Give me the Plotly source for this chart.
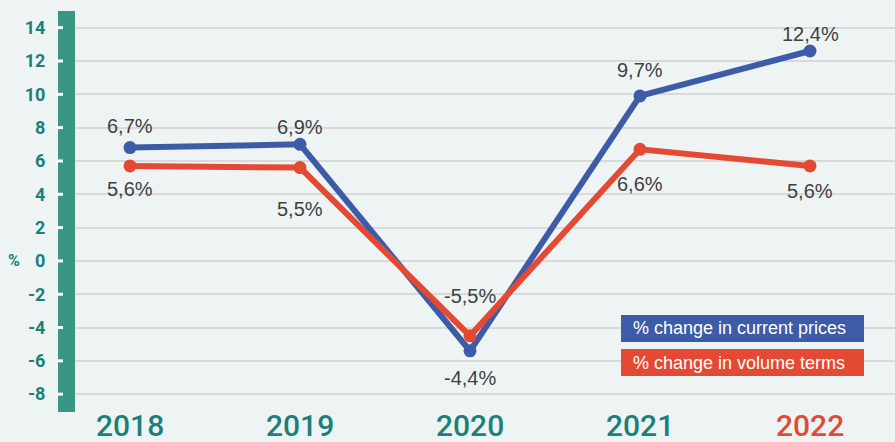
import plotly.graph_objects as go

years = ["2018", "2019", "2020", "2021", "2022"]
current_prices = [6.8, 7.0, -5.4, 9.9, 12.6]
volume_terms = [5.7, 5.6, -4.5, 6.7, 5.7]
current_labels = ["6,7%", "6,9%", "-4,4%", "9,7%", "12,4%"]
volume_labels = ["5,6%", "5,5%", "-5,5%", "6,6%", "5,6%"]
y_ticks = [14, 12, 10, 8, 6, 4, 2, 0, -2, -4, -6, -8]
legend_names = ["% change in current prices", "% change in volume terms"]

# style
BLUE = "#3e5ba8"
RED = "#e44a33"
TEAL_BAR = "#3a9585"
TEAL_TXT = "#1c7f7a"
BG = "#eef4f4"
LABEL_COL = "#404040"
cur_shift = [22, 17, -27, 26, 17]
vol_shift = [-23, -41, 40, -35, -25]
year_colors = [TEAL_TXT, TEAL_TXT, TEAL_TXT, TEAL_TXT, RED]

W, H = 895, 442
ML, MR, MT, MB = 75, 0, 11, 30
PW = W - ML - MR
PH = H - MT - MB

xs = list(range(len(years)))

fig = go.Figure()
fig.add_trace(go.Scatter(x=xs, y=current_prices, mode="lines+markers",
                         line=dict(color=BLUE, width=6), marker=dict(size=13, color=BLUE),
                         name=legend_names[0], hoverinfo="skip"))
fig.add_trace(go.Scatter(x=xs, y=volume_terms, mode="lines+markers",
                         line=dict(color=RED, width=6), marker=dict(size=13, color=RED),
                         name=legend_names[1], hoverinfo="skip"))

ann = []
for i in xs:
    ann.append(dict(x=i, y=current_prices[i], text=current_labels[i], showarrow=False,
                    yshift=cur_shift[i], font=dict(family="Liberation Sans, Arial", size=20, color=LABEL_COL)))
    ann.append(dict(x=i, y=volume_terms[i], text=volume_labels[i], showarrow=False,
                    yshift=vol_shift[i], font=dict(family="Liberation Sans, Arial", size=20, color=LABEL_COL)))
    ann.append(dict(x=i, y=-13 / PH, yref="paper", text=years[i], showarrow=False, yanchor="middle",
                    xanchor="center",
                    font=dict(family="Roboto", size=30, color=year_colors[i], weight=500)))

ann.append(dict(x=(14 - ML) / PW, xref="paper", xanchor="center", y=0, yref="y", text="%", showarrow=False,
                font=dict(family="Roboto", size=16, color=TEAL_TXT, weight="bold")))

shapes = [dict(type="rect", xref="paper", yref="paper", x0=(58 - ML) / PW, x1=0, y0=0, y1=1,
               fillcolor=TEAL_BAR, line=dict(width=0), layer="below")]
for t in y_ticks:
    shapes.append(dict(type="line", xref="paper", yref="y", x0=(56 - ML) / PW, x1=(63 - ML) / PW,
                       y0=t, y1=t, line=dict(color="white", width=3)))

# legend boxes
leg_boxes = [(315, 342), (349, 376)]
for (top, bot), col, name in zip(leg_boxes, [BLUE, RED], legend_names):
    y0 = (H - MB - bot) / PH
    y1 = (H - MB - top) / PH
    shapes.append(dict(type="rect", xref="paper", yref="paper", x0=(621 - ML) / PW, x1=(864 - ML) / PW,
                       y0=y0, y1=y1, fillcolor=col, line=dict(width=0)))
    ann.append(dict(x=(631 - ML) / PW, xref="paper", y=(y0 + y1) / 2, yref="paper", text=name,
                    xanchor="left", yanchor="middle", showarrow=False,
                    font=dict(family="Liberation Sans, Arial", size=18, color="white")))

fig.update_layout(
    width=W, height=H, margin=dict(l=ML, r=MR, t=MT, b=MB),
    paper_bgcolor=BG, plot_bgcolor=BG, showlegend=False,
    annotations=ann, shapes=shapes,
    xaxis=dict(range=[-55 / 170, 4 + 85 / 170], showgrid=False, zeroline=False,
               showticklabels=False, ticks=""),
    yaxis=dict(range=[-9.07, 15.0], tickvals=y_ticks, ticktext=[str(t) for t in y_ticks],
               showgrid=True, gridcolor="#d9d9d9", gridwidth=1.5, zeroline=False,
               ticks="outside", ticklen=25, tickcolor="rgba(0,0,0,0)",
               tickfont=dict(family="Roboto", size=18, color=TEAL_TXT, weight="bold")),
)
fig.write_html("out.html", config={"displayModeBar": False},
               post_script="document.body.style.margin='0';document.body.style.overflow='hidden';")
